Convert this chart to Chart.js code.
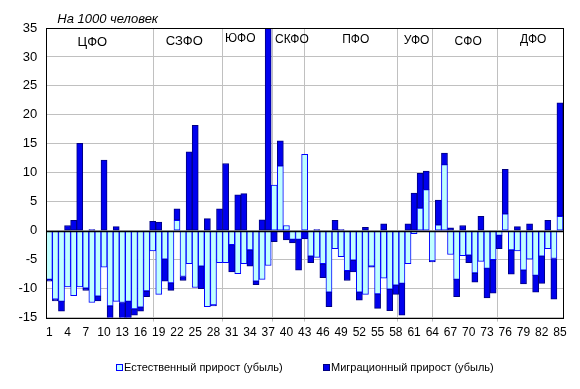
<!DOCTYPE html>
<html>
<head>
<meta charset="utf-8">
<script src="https://cdn.jsdelivr.net/npm/chart.js@4.4.1/dist/chart.umd.min.js"></script>
<style>
html, body { margin: 0; padding: 0; background: #fff; }
#wrap { width: 580px; height: 389px; }
</style>
</head>
<body>
<div id="wrap"><canvas id="chartRegions" width="580" height="389"></canvas></div>
<script>
var FONT = '"Liberation Sans", Arial, sans-serif';

// regions (subjects of the federation), in order
var regions = ['1','2','3','4','5','6','7','8','9','10','11','12','13','14','15','16','17','18','19','20',
    '21','22','23','24','25','26','27','28','29','30','31','32','33','34','35','36','37','38','39','40',
    '41','42','43','44','45','46','47','48','49','50','51','52','53','54','55','56','57','58','59','60',
    '61','62','63','64','65','66','67','68','69','70','71','72','73','74','75','76','77','78','79','80',
    '81','82','83','84','85'];
var shownTicks = ['1','4','7','10','13','16','19','22','25','28','31','34','37','40','43','46','49','52',
    '55','58','61','64','67','70','73','76','79','82','85'];

// per 1000 people
var natural = [-8.4, -11.8, -12.2, -9.7, -11.2, -9.7, -9.9, -12.4, -11.3, -6.3,
    -13.0, -12.2, -12.4, -12.2, -13.5, -13.2, -10.4, -3.5, -11.0, -4.9,
    -9.0, 1.8, -7.9, -5.7, -9.8, -6.1, -13.1, -12.8, -5.5, -5.5,
    -2.4, -7.4, -5.7, -3.3, -8.7, -8.4, -6.0, 7.9, 11.2, 0.9,
    -1.5, -1.5, 13.2, -4.4, -4.6, -5.7, -10.6, -3.1, -4.5, -6.9,
    -5.1, -10.6, -11.0, -6.1, -10.9, -8.2, -10.1, -9.4, -9.1, -5.7,
    -0.5, 3.9, 7.1, -5.2, 1.0, 11.4, -4.1, -8.4, -4.3, -4.2,
    -7.3, -5.3, -6.5, -5.0, -0.8, 2.9, -3.3, -3.5, -6.8, -4.9,
    -7.7, -4.4, -3.1, -4.8, 2.5];
var migration = [-0.3, -0.3, -1.7, 0.9, 1.8, 15.1, -0.4, 0.2, -0.8, 12.2,
    -2.6, 0.7, -3.0, -3.0, -1.1, -0.7, -1.0, 1.6, 1.5, -3.8,
    -1.3, 2.0, -0.7, 13.6, 18.2, -3.9, 2.1, -0.2, 3.8, 11.6,
    -4.7, 6.2, 6.4, -2.8, -0.6, 1.9, 38.0, -1.9, 4.3, -1.6,
    -0.6, -5.3, -1.4, -1.1, 0.2, -2.4, -2.5, 1.8, 0.2, -1.7,
    -2.0, -1.4, 0.6, -0.2, -2.5, 1.2, -3.7, -1.6, -5.5, 1.2,
    6.5, 6.0, 3.2, -0.2, 4.3, 2.0, 0.5, -3.0, 0.9, -1.3,
    -1.6, 2.5, -5.1, -5.8, -2.3, 7.7, -4.2, 0.7, -2.4, 1.2,
    -2.9, -4.7, 1.8, -7.0, 19.6];

var districtNames = ['ЦФО', 'СЗФО', 'ЮФО', 'СКФО', 'ПФО', 'УФО', 'СФО', 'ДФО'];
// where the district names sit (category index / y value) and where the separators go
var districtLabelX = [7.08, 22.2, 31.4, 39.9, 50.4, 60.4, 68.9, 79.6];
var districtLabelY = [32.55, 32.6, 33.2, 33.0, 33.0, 32.8, 32.6, 33.0];
var districtFontSize = [13, 13, 12, 12, 12, 12, 12, 12];
var districtBreaks = [17.1, 28.4, 36.6, 41.9, 57.2, 62.9, 73.7];

var legendX = [116, 323];

var extras = {
    id: 'extras',
    beforeDatasetsDraw: function (chart) {
        var ctx = chart.ctx, xs = chart.scales.x, a = chart.chartArea;
        ctx.save();
        ctx.strokeStyle = '#c0c0c0';
        ctx.lineWidth = 1;
        districtBreaks.forEach(function (v) {
            var px = Math.round(xs.getPixelForValue(v)) + 0.5;
            ctx.beginPath();
            ctx.moveTo(px, a.top);
            ctx.lineTo(px, a.bottom + 4);
            ctx.stroke();
        });
        ctx.restore();
    },
    afterDatasetsDraw: function (chart) {
        var ctx = chart.ctx, xs = chart.scales.x, ys = chart.scales.y, a = chart.chartArea;
        ctx.save();
        // zero line over the bars
        var y0 = Math.round(ys.getPixelForValue(0)) + 0.5;
        ctx.strokeStyle = '#000';
        ctx.lineWidth = 1.3;
        ctx.beginPath();
        ctx.moveTo(a.left, y0);
        ctx.lineTo(a.right, y0);
        ctx.stroke();
        // frame
        ctx.lineWidth = 1;
        ctx.strokeRect(Math.round(a.left) + 0.5, Math.round(a.top) + 0.5,
            Math.round(a.right - a.left), Math.round(a.bottom - a.top));

        // district names
        ctx.fillStyle = '#000';
        ctx.textAlign = 'center';
        ctx.textBaseline = 'middle';
        districtNames.forEach(function (name, i) {
            ctx.font = districtFontSize[i] + 'px ' + FONT;
            ctx.fillText(name, xs.getPixelForValue(districtLabelX[i]), ys.getPixelForValue(districtLabelY[i]));
        });

        // units note
        ctx.textAlign = 'left';
        ctx.font = 'italic 13px ' + FONT;
        ctx.fillText('На 1000 человек', a.left + 11, a.top - 9);

        // legend
        ctx.font = '11px ' + FONT;
        chart.data.datasets.forEach(function (ds, i) {
            var bx = legendX[i];
            ctx.fillStyle = ds.backgroundColor;
            ctx.fillRect(bx + 0.5, 364.5, 6, 6);
            ctx.strokeStyle = ds.borderColor;
            ctx.strokeRect(bx + 0.5, 364.5, 6, 6);
            ctx.fillStyle = '#000';
            ctx.fillText(ds.label, bx + 8, 368);
        });
        ctx.restore();
    }
};

var ctx = document.getElementById('chartRegions').getContext('2d');
var chartRegions = new Chart(ctx, {
    type: 'bar',
    data: {
        labels: regions,
        datasets: [{
            label: 'Естественный прирост (убыль)',
            data: natural,
            backgroundColor: '#c0ffff',
            borderColor: '#0000ff',
            borderWidth: 1,
            borderSkipped: false,
            barPercentage: 1,
            categoryPercentage: 1
        }, {
            label: 'Миграционный прирост (убыль)',
            data: migration,
            backgroundColor: '#0000ee',
            borderColor: '#000080',
            borderWidth: 1,
            borderSkipped: false,
            barPercentage: 1,
            categoryPercentage: 1
        }]
    },
    options: {
        responsive: false,
        animation: false,
        layout: { padding: { left: 9.5, right: 17, top: 28, bottom: 41 } },
        plugins: {
            legend: { display: false },
            tooltip: { enabled: false }
        },
        scales: {
            x: {
                stacked: true,
                grid: { display: false, drawTicks: false },
                border: { display: false },
                ticks: {
                    autoSkip: false,
                    maxRotation: 0,
                    padding: 8,
                    color: '#000',
                    font: { size: 12, family: FONT },
                    callback: function (v, i) {
                        var l = regions[i];
                        return shownTicks.indexOf(l) >= 0 ? l : '';
                    }
                }
            },
            y: {
                stacked: true,
                min: -15,
                max: 35,
                ticks: { stepSize: 5, padding: 9, color: '#000', font: { size: 13, family: FONT } },
                grid: { color: '#c0c0c0', drawTicks: false },
                border: { display: false }
            }
        }
    },
    plugins: [extras]
});
</script>
</body>
</html>
